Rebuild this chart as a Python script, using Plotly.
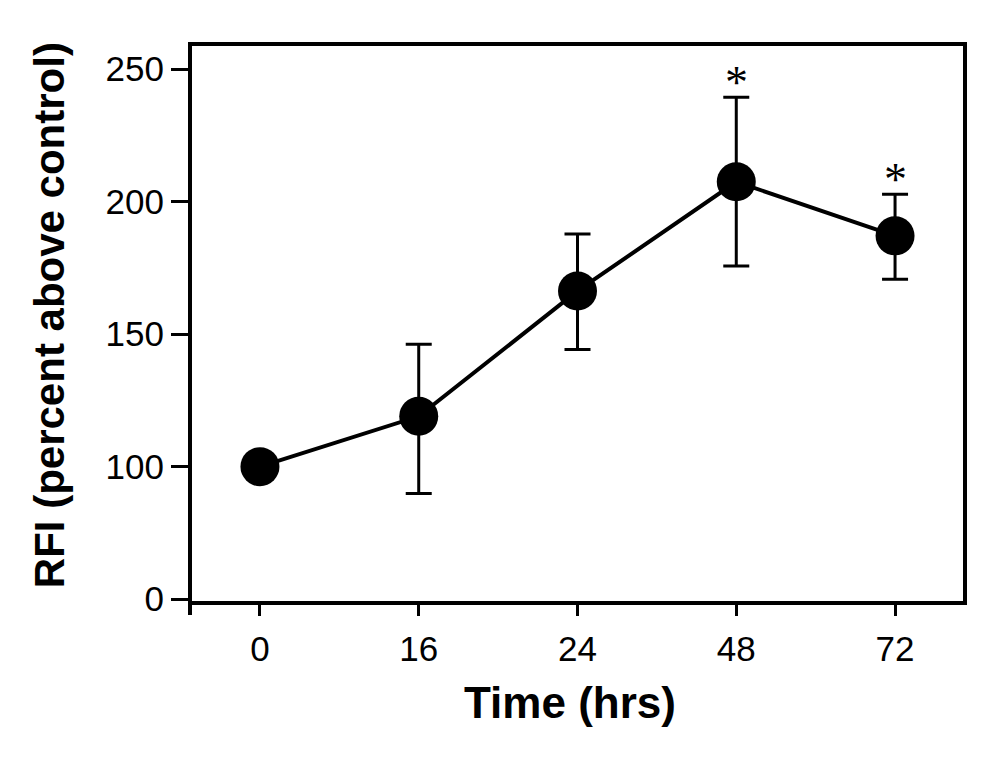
import plotly.graph_objects as go

time_labels = ["0", "16", "24", "48", "72"]
rfi = [100, 119, 166.3, 207.5, 187.1]
err_plus = [0, 27.2, 21.5, 31.9, 15.7]
err_minus = [0, 29.1, 22.1, 31.8, 16.4]
significant = [False, False, False, True, True]

# y-axis has a break: the "0" tick sits where 50 would be on the linear scale
ytick_vals = [50, 100, 150, 200, 250]
ytick_text = ["0", "100", "150", "200", "250"]

fig = go.Figure()
fig.add_trace(go.Scatter(
    x=time_labels, y=rfi, mode="lines+markers",
    line=dict(color="black", width=4),
    marker=dict(color="black", size=39, line=dict(width=0)),
    error_y=dict(type="data", symmetric=False, array=err_plus, arrayminus=err_minus,
                 color="black", thickness=3, width=13),
    showlegend=False,
))

for i, (v, ep, sig) in enumerate(zip(rfi, err_plus, significant)):
    if sig:
        fig.add_annotation(x=i, y=v + ep, xref="x", yref="y", text="*", showarrow=False,
                           yanchor="middle", yshift=15,
                           font=dict(family="Liberation Serif", size=46, color="black"))

# short extension of the left spine below the frame
fig.add_shape(type="line", xref="paper", yref="paper", x0=-0.0026, x1=-0.0026, y0=0, y1=-0.0252,
              line=dict(color="black", width=4))

# axis titles
fig.add_annotation(text="<b>Time (hrs)</b>", xref="paper", yref="paper", x=0.490, y=-0.182,
                   xanchor="center", yanchor="middle", showarrow=False,
                   font=dict(size=44, color="black"))
fig.add_annotation(text="<b>RFI (percent above control)</b>", xref="paper", yref="paper",
                   x=-0.1855, y=0.515, textangle=-90, xanchor="center", yanchor="middle",
                   showarrow=False, font=dict(size=42, color="black"))

fig.update_layout(
    width=1004, height=761,
    margin=dict(l=184, r=49, t=38, b=168),
    paper_bgcolor="white", plot_bgcolor="white",
    font=dict(family="Liberation Sans, Arial", color="black"),
    xaxis=dict(
        type="category", range=[-0.428, 4.428], automargin=False,
        showline=True, linewidth=4, linecolor="black", mirror=True,
        ticks="outside", ticklen=11, tickwidth=3, tickcolor="black",
        tickfont=dict(size=35), showgrid=False, zeroline=False,
        ticklabelstandoff=3,
    ),
    yaxis=dict(
        range=[49.3, 258.75], automargin=False,
        tickvals=ytick_vals, ticktext=ytick_text,
        showline=True, linewidth=4, linecolor="black", mirror=True,
        ticks="outside", ticklen=17, tickwidth=3, tickcolor="black",
        tickfont=dict(size=35), showgrid=False, zeroline=False,
    ),
)

fig.write_html("out.html")
